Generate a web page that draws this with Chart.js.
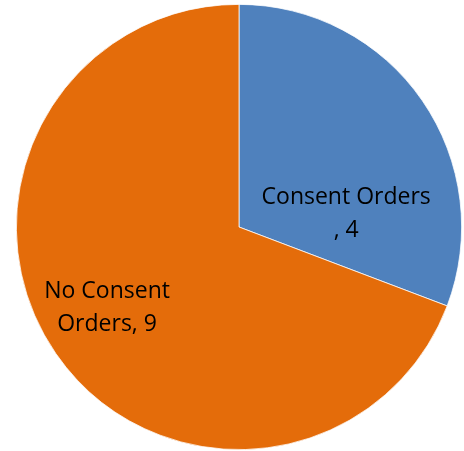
<!DOCTYPE html>
<html>
<head>
<meta charset="utf-8">
<style>
  html, body { margin: 0; padding: 0; background: #fff; }
  #wrap { width: 464px; height: 451px; }
</style>
<script src="https://cdn.jsdelivr.net/npm/chart.js@4/dist/chart.umd.min.js"></script>
</head>
<body>
<div id="wrap"><canvas id="chart"></canvas></div>
<script>
const categories = ['Consent Orders', 'No Consent Orders']
const counts = [4, 9]
const labelLines = [['Consent Orders', ', 4'], ['No Consent', 'Orders, 9']]

const SLICE_COLORS = ['#4f81bd', '#e46c0a']
// where each label sits: angle from top (deg, clockwise) and fraction of radius
const LABEL_SPOTS = [
  { angle: 83, dist: 0.485 },
  { angle: 238.5, dist: 0.695 },
]

const insideLabels = {
  id: 'insideLabels',
  afterDatasetsDraw(chart) {
    const ctx = chart.ctx
    const arcs = chart.getDatasetMeta(0).data
    ctx.save()
    ctx.font = '23px "Open Sans", sans-serif'
    ctx.fillStyle = '#000'
    ctx.textAlign = 'center'
    ctx.textBaseline = 'middle'
    arcs.forEach((arc, i) => {
      const spot = LABEL_SPOTS[i]
      const a = (spot.angle * Math.PI) / 180
      const r = arc.outerRadius * spot.dist
      const cx = arc.x + Math.sin(a) * r
      const cy = arc.y - Math.cos(a) * r
      const lines = labelLines[i]
      const lineHeight = 33
      lines.forEach((line, j) => {
        const y = cy + (j - (lines.length - 1) / 2) * lineHeight
        ctx.fillText(line, cx, y)
      })
    })
    ctx.restore()
  },
}

new Chart(document.getElementById('chart'), {
  type: 'pie',
  data: {
    labels: categories,
    datasets: [{
      data: counts,
      backgroundColor: SLICE_COLORS,
      borderColor: '#ffffff',
      borderWidth: 0.75,
    }],
  },
  options: {
    responsive: true,
    maintainAspectRatio: false,
    animation: false,
    layout: { padding: { left: 16, right: 2, top: 4, bottom: 1 } },
    plugins: {
      legend: { display: false },
      tooltip: { enabled: false },
    },
  },
  plugins: [insideLabels],
})
</script>
</body>
</html>
